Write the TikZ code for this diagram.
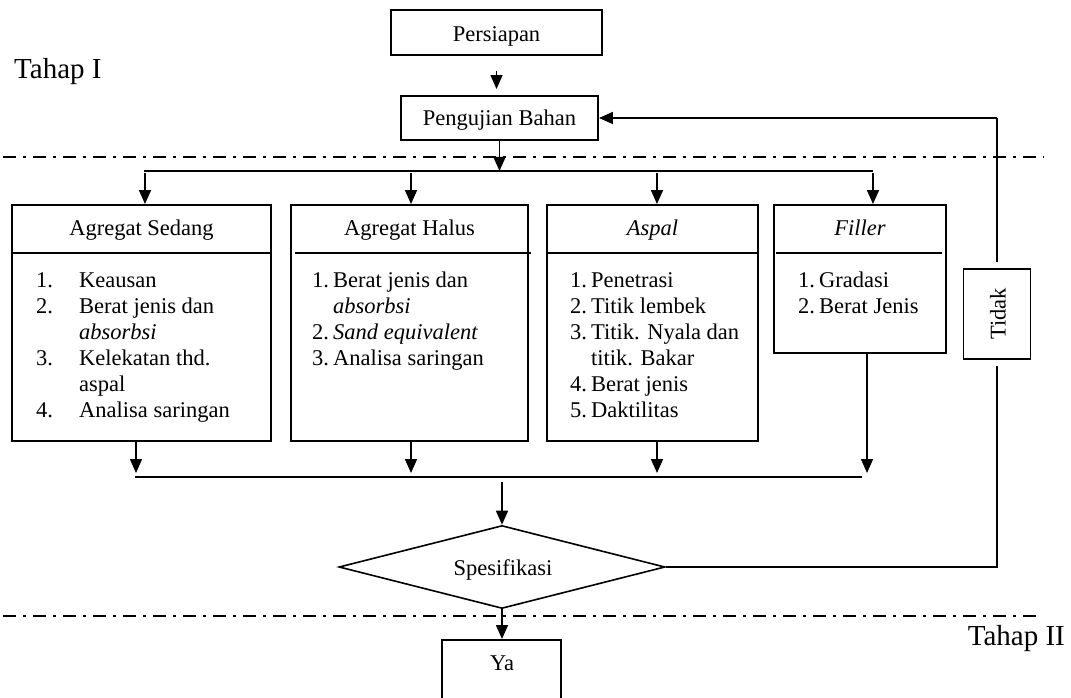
\documentclass[tikz,border=0pt]{standalone}
\usepackage{fontspec}
\setmainfont{Liberation Serif}
\usetikzlibrary{arrows.meta,shapes.geometric}
\begin{document}
\begin{tikzpicture}[x=1pt,y=-1pt,
  box/.style={draw, line width=1.9pt, inner sep=0pt, rectangle},
  hline/.style={line width=1.9pt},
  txt/.style={inner sep=0pt, font=\fontsize{22.5}{26}\selectfont},
  bigtxt/.style={inner sep=0pt, font=\fontsize{29}{34}\selectfont},
  conn/.style={line width=1.5pt},
  arr/.style={line width=1.5pt, -{Triangle[length=14pt,width=12pt]}},
  dd/.style={line width=2pt, dash pattern=on 13pt off 7pt on 3pt off 7pt},
]
\useasboundingbox (0,0) rectangle (1071,698);

% helper coordinates
\coordinate (hy) at (0,253);
\coordinate (ty) at (0,235);

% stage labels
\node[bigtxt, anchor=base west] (tahapI) at (14,79) {Tahap I};
\node[bigtxt, anchor=base east] (tahapII) at (1065,645) {Tahap II};

% top boxes
\node[box, minimum width=211pt, minimum height=45pt] (pers) at (496.5,32.5) {};
\node[txt, anchor=base] (perst) at (496.5,42) {Persiapan};
\node[box, minimum width=197pt, minimum height=44pt] (peng) at (499.5,118) {};
\node[txt, anchor=base] (pengt) at (499.5,126) {Pengujian Bahan};
\draw[arr, shorten <=15pt, shorten >=6pt] (pers.south) -- (pers.south |- peng.north);

% dash-dot separators
\coordinate (dl1) at (3,157);   \coordinate (dr1) at (1044,157);
\coordinate (dl2) at (3,616);   \coordinate (dr2) at (1043,616);
\draw[dd] (dl1) -- (dr1);
\draw[dd] (dl2) -- (dr2);

% distribution bus
\coordinate (busL) at (144,171); \coordinate (busR) at (873,171);
\draw[arr] (peng.south) -- (peng.south |- busL);
\draw[conn] (busL) -- (busR);
\coordinate (d1) at (145,171); \coordinate (d2) at (411,171);
\coordinate (d3) at (657,171); \coordinate (d4) at (873,171);

% material boxes
\node[box, minimum width=259pt, minimum height=236pt] (b1) at (141.5,323) {};
\node[box, minimum width=237pt, minimum height=236pt] (b2) at (409.5,323) {};
\node[box, minimum width=211pt, minimum height=236pt] (b3) at (652.5,323) {};
\node[box, minimum width=172pt, minimum height=148pt] (b4) at (860,279) {};

\draw[arr, shorten <=2pt] (d1) -- (d1 |- b1.north);
\draw[arr, shorten <=2pt] (d2) -- (d2 |- b2.north);
\draw[arr, shorten <=2pt] (d3) -- (d3 |- b3.north);
\draw[arr, shorten <=2pt] (d4) -- (d4 |- b4.north);

% header lines
\draw[hline] (b1.west |- hy) -- (b1.east |- hy);
\draw[hline] ([xshift=5pt]b2.west |- hy) -- ([xshift=2pt]b2.east |- hy);
\draw[hline] (b3.west |- hy) -- (b3.east |- hy);
\draw[hline] ([xshift=3pt]b4.west |- hy) -- ([xshift=-5pt]b4.east |- hy);

% titles
\node[txt, anchor=base] (b1t) at (b1.north |- ty) {Agregat Sedang};
\node[txt, anchor=base] (b2t) at (b2.north |- ty) {Agregat Halus};
\node[txt, anchor=base] (b3t) at (b3.north |- ty) {\textit{Aspal}};
\node[txt, anchor=base] (b4t) at (b4.north |- ty) {\textit{Filler}};

% box 1 list
\node[txt, anchor=base west] (a1n1) at (36,287) {1.};
\node[txt, anchor=base west] (a1l1) at (79,287) {Keausan};
\node[txt, anchor=base west] (a1n2) at (36,313) {2.};
\node[txt, anchor=base west] (a1l2) at (79,313) {Berat jenis dan};
\node[txt, anchor=base west] (a1l3) at (79,339) {\textit{absorbsi}};
\node[txt, anchor=base west] (a1n3) at (36,365) {3.};
\node[txt, anchor=base west] (a1l4) at (79,365) {Kelekatan thd.};
\node[txt, anchor=base west] (a1l5) at (79,391) {aspal};
\node[txt, anchor=base west] (a1n4) at (36,417) {4.};
\node[txt, anchor=base west] (a1l6) at (79,417) {Analisa saringan};

% box 2 list
\node[txt, anchor=base west] (a2n1) at (312,287) {1.};
\node[txt, anchor=base west] (a2l1) at (333,287) {Berat jenis dan};
\node[txt, anchor=base west] (a2l2) at (333,313) {\textit{absorbsi}};
\node[txt, anchor=base west] (a2n2) at (312,339) {2.};
\node[txt, anchor=base west] (a2l3) at (333,339) {\textit{Sand equivalent}};
\node[txt, anchor=base west] (a2n3) at (312,365) {3.};
\node[txt, anchor=base west] (a2l4) at (333,365) {Analisa saringan};

% box 3 list
\node[txt, anchor=base west] (a3n1) at (570,287) {1.};
\node[txt, anchor=base west] (a3l1) at (591,287) {Penetrasi};
\node[txt, anchor=base west] (a3n2) at (570,313) {2.};
\node[txt, anchor=base west] (a3l2) at (591,313) {Titik lembek};
\node[txt, anchor=base west] (a3n3) at (570,339) {3.};
\node[txt, anchor=base west] (a3l3) at (591,339) {Titik. Nyala dan};
\node[txt, anchor=base west] (a3l4) at (591,365) {titik. Bakar};
\node[txt, anchor=base west] (a3n4) at (570,391) {4.};
\node[txt, anchor=base west] (a3l5) at (591,391) {Berat jenis};
\node[txt, anchor=base west] (a3n5) at (570,417) {5.};
\node[txt, anchor=base west] (a3l6) at (591,417) {Daktilitas};

% box 4 list
\node[txt, anchor=base west] (a4n1) at (798,287) {1.};
\node[txt, anchor=base west] (a4l1) at (819,287) {Gradasi};
\node[txt, anchor=base west] (a4n2) at (798,313) {2.};
\node[txt, anchor=base west] (a4l2) at (819,313) {Berat Jenis};

% collecting bus
\coordinate (cbL) at (135,477); \coordinate (cbR) at (862,477);
\coordinate (u1) at (136,477); \coordinate (u2) at (411,477);
\coordinate (u3) at (657,477); \coordinate (u4) at (867,477);
\draw[arr, shorten >=4pt] (b1.south -| u1) -- (u1);
\draw[arr, shorten >=4pt] (b2.south -| u2) -- (u2);
\draw[arr, shorten >=4pt] (b3.south -| u3) -- (u3);
\draw[arr, shorten >=4pt] (b4.south -| u4) -- (u4);
\draw[conn] (cbL) -- (cbR);

% decision
\node[diamond, draw, line width=1.6pt, inner sep=0pt, minimum width=326pt, minimum height=83pt] (spec) at (502,567) {};
\node[txt, anchor=base] (spect) at (503,575) {Spesifikasi};
\coordinate (cc) at (502,477);
\draw[arr, shorten <=5pt] (cc) -- (spec.north);

% Ya
\node[box, minimum width=119pt, minimum height=80pt, anchor=north] (ya) at (501.5,639) {};
\node[txt, anchor=base] (yat) at (502,670) {Ya};
\draw[arr] (spec.south) -- (spec.south |- ya.north);

% feedback loop
\node[box, minimum width=67pt, minimum height=90pt] (tid) at (997,314) {};
\node[txt, rotate=90] (tidt) at (998,314) {Tidak};
\coordinate (fbT) at (997,118);
\coordinate (fbB) at (997,567);
\draw[arr] (fbT) -- (peng.east);
\draw[conn, shorten >=6pt] (fbT) -- (tid.north);
\draw[conn, shorten <=6pt] (tid.south) -- (fbB) -- (spec.east);
\end{tikzpicture}
\end{document}
